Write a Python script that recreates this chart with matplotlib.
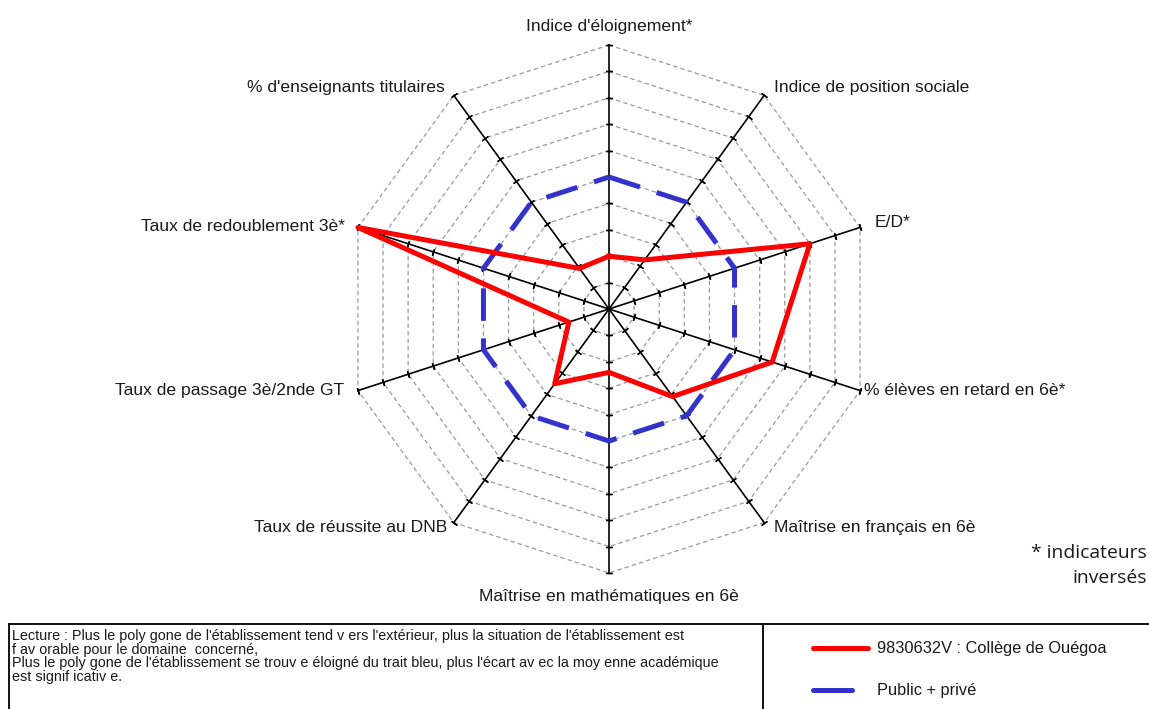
import numpy as np
import matplotlib
matplotlib.use("Agg")
import matplotlib.pyplot as plt

plt.rcParams['font.family'] = ['Liberation Sans', 'DejaVu Sans']

# ---- data ----
categories = ["Indice d'éloignement*", "Indice de position sociale", "E/D*",
              "% élèves en retard en 6è*", "Maîtrise en français en 6è",
              "Maîtrise en mathématiques en 6è", "Taux de réussite au DNB",
              "Taux de passage 3è/2nde GT", "Taux de redoublement 3è*",
              "% d'enseignants titulaires"]
college_values = [2.0, 2.3, 8.0, 6.5, 4.1, 2.4, 3.5, 1.6, 10.0, 1.9]
academy_values = [5, 5, 5, 5, 5, 5, 5, 5, 5, 5]
college_name = "9830632V : Collège de Ouégoa"
academy_name = "Public + privé"
lecture_lines = [
    "Lecture : Plus le poly gone de l'établissement tend v ers l'extérieur, plus la situation de l'établissement est",
    "f av orable pour le domaine  concerné,",
    "Plus le poly gone de l'établissement se trouv e éloigné du trait bleu, plus l'écart av ec la moy enne académique",
    "est signif icativ e.",
]
rings = list(range(1, 11))

W, H = 1149, 709
fig = plt.figure(figsize=(W / 100, H / 100), dpi=100)

cx, cy, R = 609, 309, 264
ax = fig.add_axes([(cx - R) / W, 1 - (cy + R) / H, 2 * R / W, 2 * R / H], projection='polar')
ax.set_theta_zero_location('N')
ax.set_theta_direction(-1)
ax.set_ylim(0, 10)
ax.set_xticks([])
ax.set_yticks([])
ax.grid(False)
ax.spines['polar'].set_visible(False)
ax.patch.set_visible(False)

n = len(categories)
theta = np.arange(n) * 2 * np.pi / n
theta_c = np.append(theta, theta[0])

# decagon grid
for r in rings:
    ax.plot(theta_c, [r] * (n + 1), color='#9a9a9a', lw=0.9, ls=(0, (3.5, 2.5)), zorder=1, clip_on=False)

# spokes with ticks
for i, t in enumerate(theta):
    ax.plot([t, t], [0, 10], color='black', lw=1.2, zorder=2, clip_on=False)
    ang = 90 - np.degrees(t)
    ax.plot([t] * len(rings), rings, ls='none', marker=(2, 2, ang), ms=5, mew=1.0,
            color='black', zorder=2, clip_on=False)

# series
ax.plot(theta_c, academy_values + academy_values[:1], color='#3333CC', lw=3.6,
        dashes=(6.5, 3.5), zorder=3, clip_on=False)
ax.plot(theta_c, college_values + college_values[:1], color='#FF0000', lw=3.6,
        zorder=4, clip_on=False)

# category labels (offsets in pixels from each axis tip)
label_style = [
    ((0, 19), 'center'),
    ((10, 8), 'left'),
    ((15, 5), 'left'),
    ((4, 0), 'left'),
    ((10, -5), 'left'),
    ((0, -24), 'center'),
    ((-7, -5), 'right'),
    ((-14, 0), 'right'),
    ((-13, 1), 'right'),
    ((-9, 8), 'right'),
]
fs = 12.6
for t, lab, (off, ha) in zip(theta, categories, label_style):
    ax.annotate(lab, xy=(t, 10), xytext=off, textcoords='offset pixels',
                ha=ha, va='center', fontsize=fs, color='#1a1a1a', annotation_clip=False)

# overlay for footnote / table
ov = fig.add_axes([0, 0, 1, 1])
ov.set_xlim(0, W)
ov.set_ylim(H, 0)
ov.axis('off')

ov.text(1147, 553, "* indicateurs", ha='right', va='center', fontsize=13.9,
        family=['Open Sans', 'DejaVu Sans'], color='#1a1a1a')
ov.text(1147, 578, "inversés", ha='right', va='center', fontsize=13.9,
        family=['Open Sans', 'DejaVu Sans'], color='#1a1a1a')

# table box
top, bot, left, mid, right = 624, 712, 9, 763, 1152
ov.plot([left, right], [top, top], color='black', lw=1.3, clip_on=False)
ov.plot([left, left], [top, bot], color='black', lw=1.3, clip_on=False)
ov.plot([mid, mid], [top, bot], color='black', lw=1.3, clip_on=False)
ov.plot([left, right], [bot, bot], color='black', lw=1.3, clip_on=False)

for k, line in enumerate(lecture_lines):
    ov.text(12, 636 + k * 13.6, line, ha='left', va='center', fontsize=10.4, color='#1a1a1a')

ov.plot([813, 868], [648, 648], color='#FF0000', lw=3.6, solid_capstyle='round')
ov.text(877, 648, college_name, ha='left', va='center', fontsize=11.8, color='#1a1a1a')
ov.plot([813, 852], [690, 690], color='#3333CC', lw=3.6, solid_capstyle='round')
ov.text(877, 690, academy_name, ha='left', va='center', fontsize=11.8, color='#1a1a1a')

fig.savefig("out.png", dpi=100)
